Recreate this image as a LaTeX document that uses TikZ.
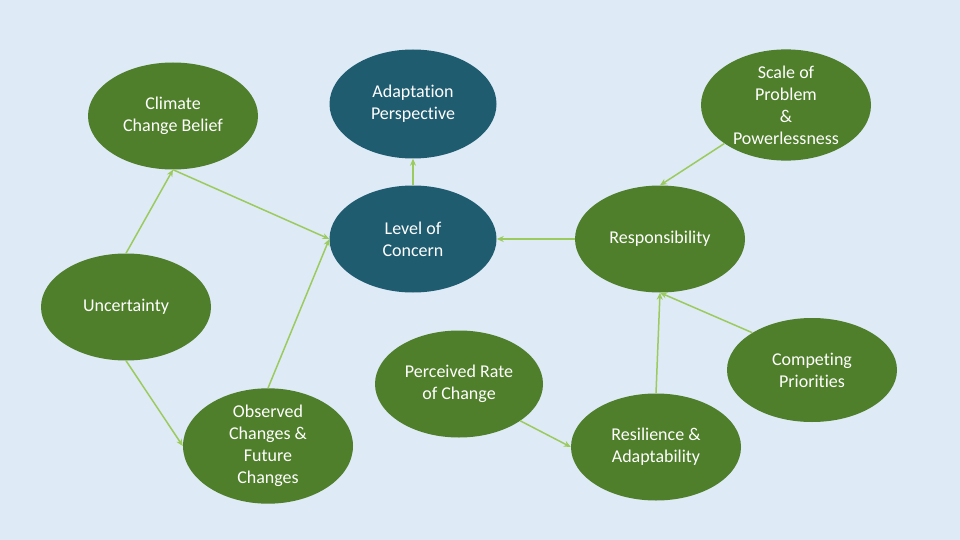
\documentclass[tikz,border=0pt]{standalone}
\usepackage{fontspec}
\setmainfont{Carlito}[Ligatures=NoCommon]
\usetikzlibrary{shapes.geometric,arrows.meta}
\definecolor{bgblue}{HTML}{DEEAF6}
\definecolor{leaf}{HTML}{4F7F2A}
\definecolor{teal}{HTML}{1F5C70}
\definecolor{lime}{HTML}{9BCB5C}
\tikzset{
  bubble/.style={ellipse, fill=leaf, text=white, inner sep=0pt, align=center,
    minimum width=170pt, minimum height=107pt, font=\fontsize{18}{22}\selectfont},
  bluebubble/.style={bubble, fill=teal},
  link/.style={lime, line width=1.5pt, -{Stealth[length=7pt,width=6pt]}}
}
\begin{document}
\begin{tikzpicture}[x=1pt,y=-1pt]
\useasboundingbox[fill=bgblue] (0,0) rectangle (960,540);
\node[bubble] (ccb) at (173,116) {Climate\\Change Belief};
\node[bluebubble, minimum width=167pt, minimum height=109pt] (ap) at (413,104) {Adaptation\\Perspective};
\node[bubble, minimum height=108pt] (scale) at (786,105) {Scale of\\Problem\\\&\\Powerlessness};
\node[bluebubble, minimum width=167pt] (loc) at (413,239) {Level of\\Concern};
\node[bubble] (resp) at (660,239) {Responsibility};
\node[bubble] (unc) at (126,307) {Uncertainty};
\node[bubble, minimum width=168pt] (prc) at (459,384) {Perceived Rate\\of Change};
\node[bubble, minimum height=104pt] (cp) at (812,370) {Competing\\Priorities};
\node[bubble] (obs) at (268,446) {Observed\\Changes \&\\Future\\Changes};
\node[bubble] (res) at (656,447) {Resilience \&\\Adaptability};
% links
\draw[link] (unc.north) -- (ccb.south);
\draw[link] (ccb.south) -- (loc.west);
\draw[link] (unc.south) -- (obs.west);
\draw[link] (obs.north) -- (loc.west);
\draw[link] (loc.north) -- (ap.south);
\draw[link] (resp.west) -- (loc.east);
\draw[link] (scale.212) -- (resp.north);
\draw[link] (res.north) -- (resp.south);
\draw[link] (cp.148) -- (resp.south);
\draw[link] (prc.329) -- (res.west);
\end{tikzpicture}
\end{document}
